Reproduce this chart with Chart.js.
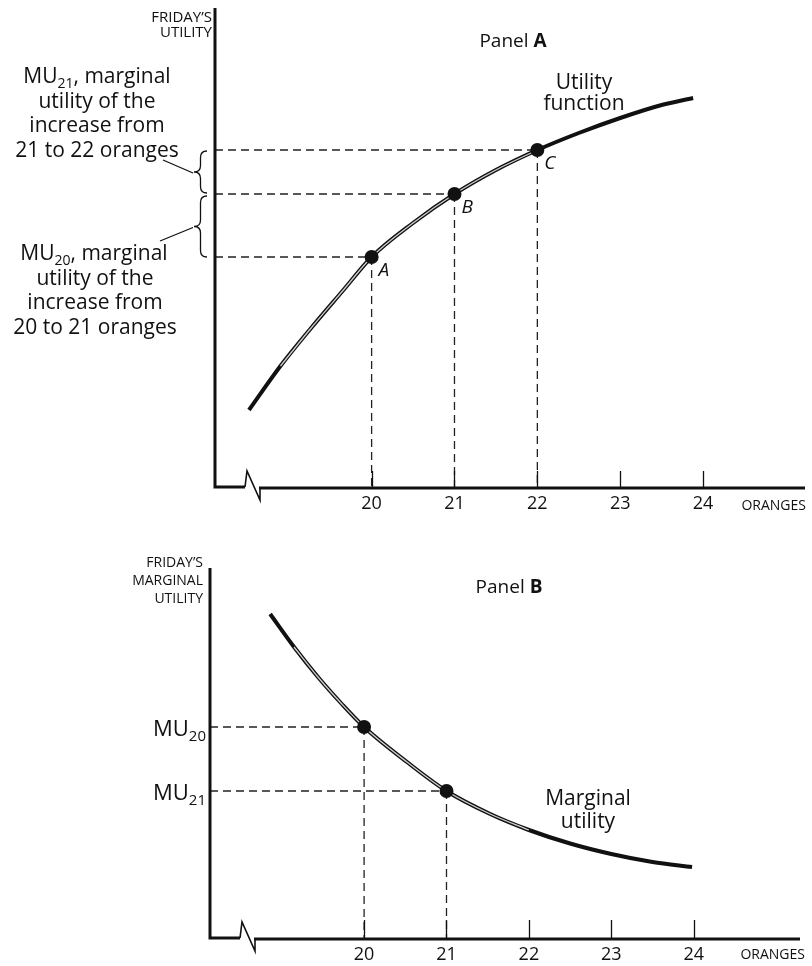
<!DOCTYPE html>
<html>
<head>
<meta charset="utf-8">
<title>Friday's utility and marginal utility</title>
<script src="https://cdn.jsdelivr.net/npm/chart.js@4.4.1/dist/chart.umd.min.js"></script>
<style>
    html, body { margin: 0; padding: 0; background: #fff; }
    #wrap { position: relative; width: 812px; height: 966px; }
    canvas { position: absolute; left: 0; display: block; }
    #chart-a { top: 0; }
    #chart-b { top: 525px; }
</style>
</head>
<body>
<div id="wrap">
    <canvas id="chart-a" width="812" height="525"></canvas>
    <canvas id="chart-b" width="812" height="441"></canvas>
</div>
<script>
(function () {
    "use strict";

    var FONT = "'Open Sans', 'DejaVu Sans', sans-serif";
    var INK = "#111";
    var GUIDE = "#222";

    var tickOranges = [20, 21, 22, 23, 24];

    // Panel A: utility function
    var utilOranges = [18.52, 18.9, 19.27, 19.66, 20, 20.5, 21, 21.5, 22, 22.5, 23, 23.5, 23.88];
    var utilValues = [7.7, 12.1, 15.9, 19.7, 23.0, 26.4, 29.3, 31.7, 33.7, 35.4, 36.9, 38.2, 38.9];
    var markOrangesA = [20, 21, 22];
    var markUtilA = [23.0, 29.3, 33.7];
    var markNamesA = ["A", "B", "C"];

    // Panel B: marginal utility curve
    var muOranges = [18.86, 19.15, 19.44, 19.73, 20, 20.52, 21, 21.53, 22, 22.5, 23, 23.5, 23.98];
    var muValues = [32.4, 29.1, 26.1, 23.4, 21.1, 17.6, 14.7, 12.4, 10.8, 9.45, 8.4, 7.6, 7.1];
    var markOrangesB = [20, 21];
    var markMuB = [21.1, 14.7];
    var markNamesB = ["20", "21"];

    var noteMU21 = ["utility of the", "increase from", "21 to 22 oranges"];
    var noteMU20 = ["utility of the", "increase from", "20 to 21 oranges"];

    function xy(xs, ys) {
        return xs.map(function (x, i) { return { x: x, y: ys[i] }; });
    }

    function dashed(data) {
        return {
            data: data,
            showLine: true,
            borderColor: GUIDE,
            borderWidth: 1.3,
            borderDash: [8, 5],
            pointRadius: 0,
            order: 5
        };
    }

    function guides(xs, ys, xMin) {
        var sets = [];
        xs.forEach(function (x, i) {
            sets.push(dashed([{ x: xMin, y: ys[i] }, { x: x, y: ys[i] }]));
            sets.push(dashed([{ x: x, y: ys[i] }, { x: x, y: 0 }]));
        });
        return sets;
    }

    function curveSets(xs, ys, innerFrom, innerTo) {
        return [{
            data: xy(xs, ys),
            showLine: true,
            borderColor: INK,
            borderWidth: 4,
            pointRadius: 0,
            cubicInterpolationMode: "monotone",
            order: 3
        }, {
            data: xy(xs.slice(innerFrom, innerTo), ys.slice(innerFrom, innerTo)),
            showLine: true,
            borderColor: "rgba(255,255,255,0.8)",
            borderWidth: 1.3,
            pointRadius: 0,
            cubicInterpolationMode: "monotone",
            order: 2
        }];
    }

    function marks(xs, ys) {
        return {
            data: xy(xs, ys),
            showLine: false,
            pointRadius: 7,
            pointBackgroundColor: INK,
            pointBorderWidth: 0,
            order: 0
        };
    }

    function xScale(min, max, height) {
        return {
            type: "linear",
            min: min,
            max: max,
            grid: { display: false, drawTicks: false },
            border: { display: false },
            ticks: {
                color: INK,
                font: { family: FONT, size: 18 },
                padding: 6,
                autoSkip: false,
                maxRotation: 0
            },
            afterBuildTicks: function (scale) {
                scale.ticks = tickOranges.map(function (v) { return { value: v }; });
            },
            afterFit: function (scale) { scale.height = height; }
        };
    }

    function axesPlugin(tickLen) {
        return {
            id: "axes",
            afterDraw: function (chart) {
                var ctx = chart.ctx, a = chart.chartArea, sx = chart.scales.x;
                ctx.save();
                ctx.strokeStyle = INK;
                ctx.lineJoin = "miter";
                ctx.lineWidth = 3;
                ctx.beginPath();
                ctx.moveTo(a.left, a.top);
                ctx.lineTo(a.left, a.bottom);
                ctx.lineTo(a.left + 30, a.bottom);
                ctx.stroke();
                // axis break
                ctx.lineWidth = 1.6;
                ctx.beginPath();
                ctx.moveTo(a.left + 30, a.bottom);
                ctx.lineTo(a.left + 32, a.bottom - 16);
                ctx.lineTo(a.left + 45, a.bottom + 13);
                ctx.lineTo(a.left + 45, a.bottom + 1);
                ctx.stroke();
                ctx.lineWidth = 3;
                ctx.beginPath();
                ctx.moveTo(a.left + 44, a.bottom + 1);
                ctx.lineTo(a.right, a.bottom + 1);
                ctx.stroke();
                ctx.lineWidth = 1.3;
                tickOranges.forEach(function (v) {
                    var px = Math.round(sx.getPixelForValue(v)) + 0.5;
                    ctx.beginPath();
                    ctx.moveTo(px, a.bottom);
                    ctx.lineTo(px, a.bottom - tickLen);
                    ctx.stroke();
                });
                ctx.restore();
            }
        };
    }

    function font(size, style) {
        return (style ? style + " " : "") + size + "px " + FONT;
    }

    // parts alternate normal / subscript
    function rich(ctx, parts, x, y, align, size) {
        var sub = Math.round(size * 0.68);
        var widths = parts.map(function (p, i) {
            ctx.font = font(i % 2 ? sub : size);
            return ctx.measureText(p).width;
        });
        var total = widths.reduce(function (s, w) { return s + w; }, 0);
        var cx = align === "center" ? x - total / 2 : (align === "right" ? x - total : x);
        ctx.textAlign = "left";
        parts.forEach(function (p, i) {
            ctx.font = font(i % 2 ? sub : size);
            ctx.fillText(p, cx, i % 2 ? y + 5 : y);
            cx += widths[i];
        });
    }

    function lines(ctx, list, x, y, step, size, align) {
        ctx.font = font(size);
        ctx.textAlign = align;
        list.forEach(function (t, i) { ctx.fillText(t, x, y + i * step); });
    }

    function panelTitle(ctx, letter, cx, y) {
        ctx.font = font(19);
        var w1 = ctx.measureText("Panel ").width;
        ctx.font = font(19, "bold");
        var w2 = ctx.measureText(letter).width;
        var x = cx - (w1 + w2) / 2;
        ctx.textAlign = "left";
        ctx.font = font(19);
        ctx.fillText("Panel ", x, y);
        ctx.font = font(19, "bold");
        ctx.fillText(letter, x + w1, y);
    }

    function brace(ctx, xr, yTop, yBot, depth) {
        var xm = xr - depth / 2, xl = xr - depth, ym = (yTop + yBot) / 2, r = depth / 2;
        ctx.beginPath();
        ctx.moveTo(xr, yTop);
        ctx.quadraticCurveTo(xm, yTop, xm, yTop + r);
        ctx.lineTo(xm, ym - r);
        ctx.quadraticCurveTo(xm, ym, xl, ym);
        ctx.quadraticCurveTo(xm, ym, xm, ym + r);
        ctx.lineTo(xm, yBot - r);
        ctx.quadraticCurveTo(xm, yBot, xr, yBot);
        ctx.stroke();
        return { x: xl, y: ym };
    }

    var textA = {
        id: "textA",
        afterDraw: function (chart) {
            var ctx = chart.ctx, a = chart.chartArea;
            var sx = chart.scales.x, sy = chart.scales.y;
            ctx.save();
            ctx.fillStyle = INK;
            ctx.strokeStyle = INK;
            ctx.textBaseline = "alphabetic";

            lines(ctx, ["FRIDAY\u2019S", "UTILITY"], a.left - 3, 22, 15, 15, "right");
            ctx.textAlign = "right";
            ctx.font = font(14);
            ctx.fillText("ORANGES", 806, 510);

            panelTitle(ctx, "A", 513, 47);
            lines(ctx, ["Utility", "function"], 584, 89, 21, 21, "center");

            markNamesA.forEach(function (n, i) {
                ctx.font = font(19, "italic");
                ctx.textAlign = "left";
                ctx.fillText(n, sx.getPixelForValue(markOrangesA[i]) + 7,
                    sy.getPixelForValue(markUtilA[i]) + 19);
            });

            rich(ctx, ["MU", "21", ", marginal"], 97, 83, "center", 21);
            lines(ctx, noteMU21, 97, 107.7, 24.6, 21, "center");
            rich(ctx, ["MU", "20", ", marginal"], 94, 260, "center", 21);
            lines(ctx, noteMU20, 95, 284.5, 24.5, 21, "center");

            var yA = sy.getPixelForValue(markUtilA[0]);
            var yB = sy.getPixelForValue(markUtilA[1]);
            var yC = sy.getPixelForValue(markUtilA[2]);
            ctx.lineWidth = 1.3;
            var tipUp = brace(ctx, a.left - 8, yC + 1, yB - 1, 13);
            var tipLo = brace(ctx, a.left - 8, yB + 2, yA, 13);
            ctx.beginPath();
            ctx.moveTo(163, 160);
            ctx.lineTo(tipUp.x - 1, tipUp.y + 1);
            ctx.moveTo(160, 241);
            ctx.lineTo(tipLo.x - 1, tipLo.y + 1);
            ctx.stroke();
            ctx.restore();
        }
    };

    var textB = {
        id: "textB",
        afterDraw: function (chart) {
            var ctx = chart.ctx, a = chart.chartArea;
            var sy = chart.scales.y;
            ctx.save();
            ctx.fillStyle = INK;
            ctx.textBaseline = "alphabetic";

            lines(ctx, ["FRIDAY\u2019S", "MARGINAL", "UTILITY"], a.left - 7, 42, 18, 14, "right");
            ctx.textAlign = "right";
            ctx.font = font(14);
            ctx.fillText("ORANGES", 805, 434);

            panelTitle(ctx, "B", 509, 68);
            lines(ctx, ["Marginal", "utility"], 588, 280, 23, 21, "center");

            markNamesB.forEach(function (n, i) {
                rich(ctx, ["MU", n], a.left - 4, sy.getPixelForValue(markMuB[i]) + 9, "right", 22);
            });
            ctx.restore();
        }
    };

    var datasetsA = curveSets(utilOranges, utilValues, 1, 9)
        .concat(guides(markOrangesA, markUtilA, 18.11))
        .concat([marks(markOrangesA, markUtilA)]);

    var datasetsB = curveSets(muOranges, muValues, 1, 9)
        .concat(guides(markOrangesB, markMuB, 18.13))
        .concat([marks(markOrangesB, markMuB)]);

    function baseOptions(padding, xMin, xMax, xHeight, yMax) {
        return {
            responsive: false,
            animation: false,
            events: [],
            layout: { padding: padding },
            plugins: { legend: { display: false }, tooltip: { enabled: false } },
            scales: {
                x: xScale(xMin, xMax, xHeight),
                y: { type: "linear", display: false, min: 0, max: yMax }
            }
        };
    }

    function init() {
        if (typeof Chart === "undefined") {
            return;
        }
        new Chart(document.getElementById("chart-a"), {
            type: "scatter",
            data: { datasets: datasetsA },
            options: baseOptions({ top: 8, left: 215, right: 2, bottom: 0 }, 18.11, 25.23, 38, 47.9),
            plugins: [axesPlugin(16), textA]
        });
        new Chart(document.getElementById("chart-b"), {
            type: "scatter",
            data: { datasets: datasetsB },
            options: baseOptions({ top: 43, left: 210, right: 12, bottom: 0 }, 18.13, 25.29, 28, 37.0),
            plugins: [axesPlugin(18), textB]
        });
    }

    if (document.readyState === "loading") {
        document.addEventListener("DOMContentLoaded", init);
    } else {
        init();
    }
})();
</script>
</body>
</html>
